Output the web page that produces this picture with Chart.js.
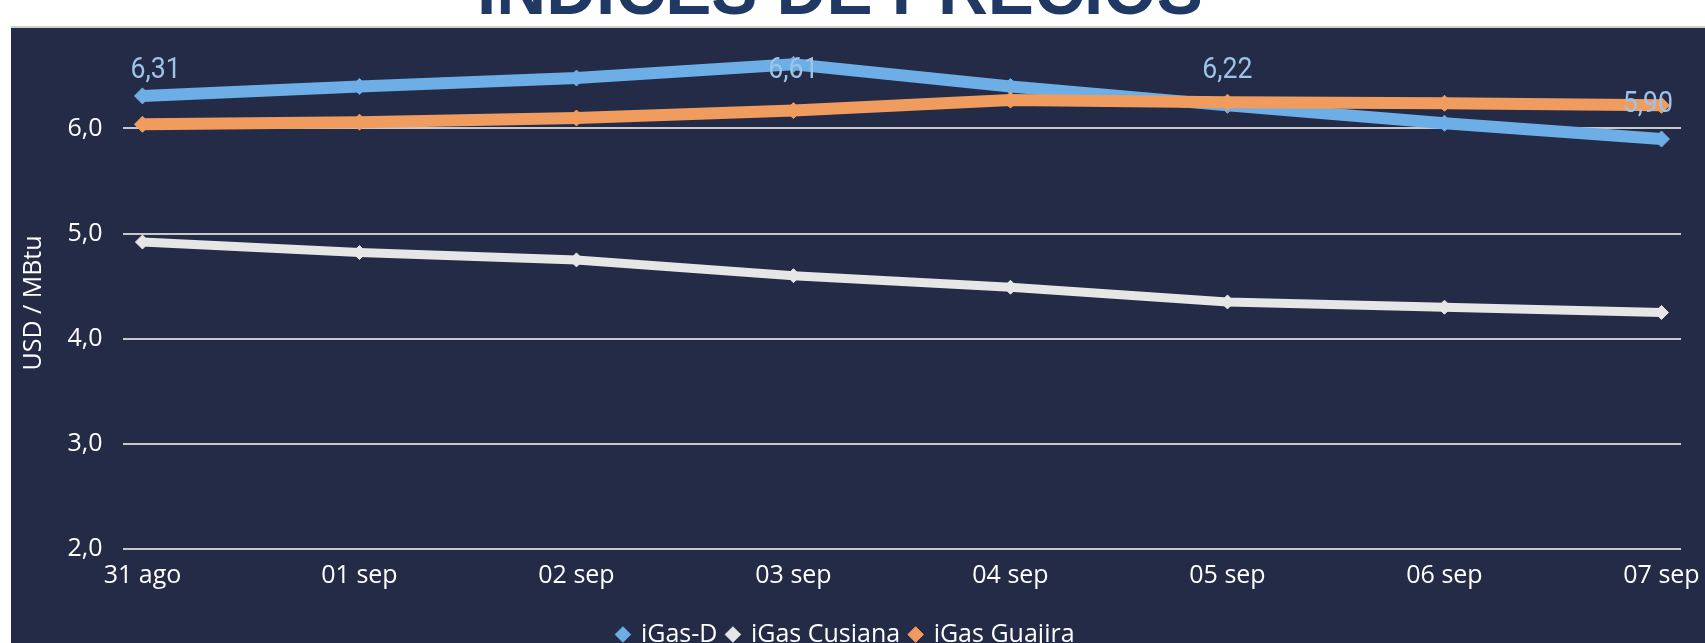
<!DOCTYPE html>
<html>
<head>
<meta charset="utf-8">
<script src="https://cdn.jsdelivr.net/npm/chart.js@4.4.1/dist/chart.umd.min.js"></script>
<style>
  html, body { margin:0; padding:0; background:#ffffff; width:1705px; height:643px; overflow:hidden; position:relative; }
  #title { position:absolute; left:840px; top:-47px; transform:translateX(-50%) scaleX(0.96); white-space:nowrap;
           font-family:"Liberation Sans", Arial, sans-serif; font-weight:bold; font-size:72px; line-height:72px;
           color:#1f3864; }
  #panel { position:absolute; left:11px; top:26px; width:1694px; height:617px; border-top:2px solid #cfcfcf;
           background:#242b46; overflow:hidden; }
  #wrap { position:absolute; left:0; top:0; width:1694px; height:629px; }
</style>
</head>
<body>
<div id="title">ÍNDICES DE PRECIOS</div>
<div id="panel"><div id="wrap"><canvas id="c"></canvas></div></div>
<script>
// ---- data ----
const categories = ["31 ago", "01 sep", "02 sep", "03 sep", "04 sep", "05 sep", "06 sep", "07 sep"];
const seriesNames = ["iGas-D", "iGas Cusiana", "iGas Guajira"];
const igasD       = [6.31, 6.40, 6.48, 6.61, 6.40, 6.22, 6.05, 5.90];
const igasCusiana = [4.92, 4.82, 4.75, 4.60, 4.49, 4.35, 4.30, 4.25];
const igasGuajira = [6.04, 6.06, 6.10, 6.17, 6.27, 6.25, 6.24, 6.22];
const labelIdx = [0, 3, 5, 7];          // points of iGas-D that carry a value label
const yTicks = [2.0, 3.0, 4.0, 5.0, 6.0];
const yMin = 2.0, yMax = 6.68;
const xMin = -0.092, xMax = 7.09;

const fmt = (v, d) => v.toFixed(d).replace('.', ',');
const toXY = arr => arr.map((v, i) => ({ x: i, y: v }));

const valueLabels = {
  id: 'valueLabels',
  afterDatasetsDraw(chart) {
    const { ctx, chartArea } = chart;
    const meta = chart.getDatasetMeta(0);
    const sx = 0.92;
    ctx.save();
    ctx.font = '400 29px Roboto';
    ctx.fillStyle = '#9dc3e6';
    ctx.textBaseline = 'alphabetic';
    ctx.textAlign = 'left';
    labelIdx.forEach(i => {
      const pt = meta.data[i];
      const txt = fmt(igasD[i], 2);
      const w = ctx.measureText(txt).width * sx;
      let cx = pt.x;
      cx = Math.max(chartArea.left + 8 + w / 2, Math.min(chartArea.right - 8 - w / 2, cx));
      const cy = Math.max(chartArea.top + 10, pt.y - 38);
      ctx.save();
      ctx.translate(cx - w / 2, cy + 10.5);
      ctx.scale(sx, 1);
      ctx.fillText(txt, 0, 0);
      ctx.restore();
    });
    ctx.restore();
  }
};

const tickFont = { family: '"Open Sans", sans-serif', size: 25 };

function ds(label, data, color, width, radius, order) {
  return {
    label, data: toXY(data), borderColor: color, backgroundColor: color,
    borderWidth: width, pointStyle: 'rectRot', pointRadius: radius,
    pointBorderWidth: 1, pointBackgroundColor: color, pointBorderColor: color,
    tension: 0, order, clip: false
  };
}

new Chart(document.getElementById('c'), {
  type: 'line',
  data: {
    datasets: [
      ds(seriesNames[0], igasD, '#6daee6', 12, 8, 1),
      ds(seriesNames[1], igasCusiana, '#e6e6e6', 9, 7, 2),
      ds(seriesNames[2], igasGuajira, '#f09c5e', 12, 8, 0)
    ]
  },
  options: {
    responsive: true,
    maintainAspectRatio: false,
    animation: false,
    layout: { padding: { top: 29, right: 24, left: 0, bottom: 0 } },
    plugins: {
      tooltip: { enabled: false },
      legend: {
        position: 'bottom',
        labels: {
          color: '#ffffff', font: tickFont, usePointStyle: true, pointStyle: 'rectRot',
          boxWidth: 11, boxHeight: 11, padding: 10,
          sort: (a, b) => a.datasetIndex - b.datasetIndex
        }
      }
    },
    scales: {
      x: {
        type: 'linear', min: xMin, max: xMax,
        grid: { display: false, drawTicks: false },
        border: { display: false },
        afterBuildTicks: axis => { axis.ticks = categories.map((c, i) => ({ value: i })); },
        afterFit: axis => { axis.height = 63; axis.paddingLeft = 0; axis.paddingRight = 0; },
        ticks: { color: '#ffffff', font: tickFont, padding: 12, maxRotation: 0, autoSkip: false,
                 callback: v => categories[v] }
      },
      y: {
        min: yMin, max: yMax,
        grid: { color: '#c8c8c8', lineWidth: 2, drawTicks: false },
        border: { display: false },
        afterBuildTicks: axis => { axis.ticks = yTicks.map(v => ({ value: v })); },
        afterFit: axis => { axis.width = 111.5; axis.paddingTop = 0; axis.paddingBottom = 0; },
        ticks: { color: '#ffffff', font: tickFont, padding: 20, callback: v => fmt(v, 1) },
        title: { display: true, text: 'USD / MBtu', color: '#ffffff', font: tickFont, padding: { top: 8, bottom: 4 } }
      }
    }
  },
  plugins: [valueLabels]
});
</script>
</body>
</html>
